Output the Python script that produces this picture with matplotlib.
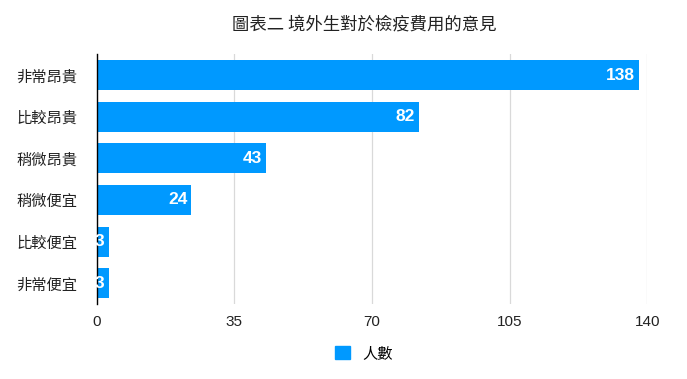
import matplotlib
matplotlib.use('Agg')
import matplotlib.pyplot as plt
from matplotlib.patches import Patch

plt.rcParams['font.family'] = ['Noto Sans CJK TC', 'DejaVu Sans']

# Data
categories = ['非常昂貴', '比較昂貴', '稍微昂貴', '稍微便宜', '比較便宜', '非常便宜']
counts = [138, 82, 43, 24, 3, 3]
xticks = [0, 35, 70, 105, 140]

bar_color = '#0099FF'
num_font = ['Liberation Sans', 'DejaVu Sans']

fig = plt.figure(figsize=(6.87, 3.79), dpi=100)
ax = fig.add_axes([0.141, 0.198, 0.801, 0.659])

ypos = list(range(len(categories)))
bars = ax.barh(ypos, counts, height=0.72, color=bar_color, zorder=3)
ax.set_yticks(ypos)
ax.set_yticklabels(categories, fontsize=11, color='#222222',
                   fontweight='medium')
ax.set_ylim(len(categories) - 0.5, -0.5)

ax.set_xlim(0, 140)
ax.set_xticks(xticks)
ax.set_xticklabels([str(t) for t in xticks], fontsize=11, color='#222222',
                   family=num_font)
ax.tick_params(length=0, pad=8)
ax.tick_params(axis='y', pad=14)
ax.grid(axis='x', color='#d9d9d9', linewidth=0.9, zorder=0)

for s in ['top', 'right', 'bottom']:
  ax.spines[s].set_visible(False)
ax.spines['left'].set_color('#000000')
ax.spines['left'].set_linewidth(1.0)
ax.spines['left'].set_zorder(4)

# Value labels inside bar ends
for bar, val in zip(bars, counts):
  ax.text(bar.get_width() - 1.0, bar.get_y() + bar.get_height() / 2, str(val),
          ha='right', va='center', color='white', fontsize=12.5,
          fontweight='bold', family=num_font, zorder=5, clip_on=False)

fig.suptitle('圖表二 境外生對於檢疫費用的意見', x=0.53, y=0.958,
             fontsize=12.5, color='#222222', fontweight='medium')

fig.legend(handles=[Patch(color=bar_color, label='人數')], loc='center',
           bbox_to_anchor=(0.53, 0.068), frameon=False, fontsize=11,
           handlelength=1.0, handleheight=1.0)

fig.savefig('out.png', dpi=100)
